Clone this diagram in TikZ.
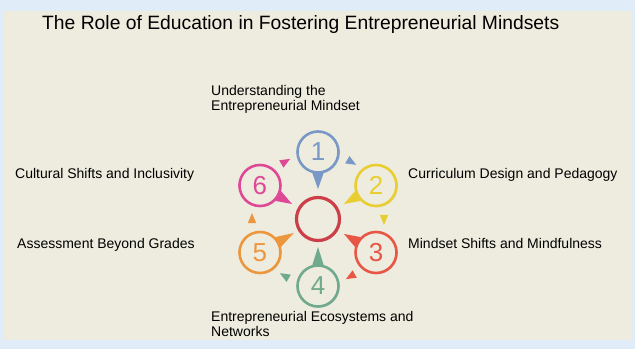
\documentclass[tikz,border=0pt]{standalone}
\usepackage{fontspec}
\setmainfont{Liberation Sans}
\usetikzlibrary{calc,shadows}
\tikzset{
  ring/.style={
    circle,
    line width=2.6pt,
    draw=#1,
    fill=panelbeige,
    text=#1,
    minimum size=41pt,
    inner sep=0pt,
    font=\fontsize{26}{26}\selectfont,
    drop shadow={shadow xshift=1.2pt, shadow yshift=-1.2pt, opacity=0.18, fill=black!60}
  },
  ring-hub/.style={ring=hubred, line width=3.2pt, minimum size=43pt},
  label-text/.style={anchor=base west, inner sep=0pt, align=left, font=\fontsize{14}{13}\selectfont},
  title-text/.style={anchor=base west, inner sep=0pt, font=\fontsize{19.3}{19.3}\selectfont}
}
\definecolor{skyblue}{RGB}{224,237,249}
\definecolor{panelbeige}{RGB}{238,236,222}
\definecolor{ringblue}{RGB}{122,152,198}
\definecolor{ringyellow}{RGB}{232,206,48}
\definecolor{ringred}{RGB}{232,86,70}
\definecolor{ringgreen}{RGB}{112,170,142}
\definecolor{ringorange}{RGB}{236,150,62}
\definecolor{ringpink}{RGB}{222,72,150}
\definecolor{hubred}{RGB}{204,62,72}
% small clockwise flow mark: colour, position, heading
\newcommand{\flowmark}[3]{
  \fill[#1] ($(#2)+(#3:6)$) -- ($(#2)+(#3+135:6)$) -- ($(#2)+(#3-135:6)$) -- cycle;
}
\begin{document}
\begin{tikzpicture}[x=1pt, y=1pt]
  \useasboundingbox (0,0) rectangle (635,349);
  \fill[skyblue] (0,0) rectangle (635,349);
  \fill[panelbeige] (4,9) rectangle (632,338);

  \node[title-text] (title) at (42,319) {The Role of Education in Fostering Entrepreneurial Mindsets};

  % Hub and the six bubbles round it
  \coordinate (hub) at (318,130);
  \node[ring-hub] (b0) at (hub) {};
  \node[ring=ringblue]   (b1) at ($(hub)+(90:67)$) {1};
  \node[ring=ringyellow] (b2) at ($(hub)+(30:67)$) {2};
  \node[ring=ringred]    (b3) at ($(hub)+(-30:67)$) {3};
  \node[ring=ringgreen]  (b4) at ($(hub)+(-90:67)$) {4};
  \node[ring=ringorange] (b5) at ($(hub)+(-150:67)$) {5};
  \node[ring=ringpink]   (b6) at ($(hub)+(150:67)$) {6};

  % Bubble tails pointing in to the hub
  \coordinate (t1) at ($(b1)+(270:37)$);
  \coordinate (t2) at ($(b2)+(210:37)$);
  \coordinate (t3) at ($(b3)+(150:37)$);
  \coordinate (t4) at ($(b4)+(90:39)$);
  \coordinate (t5) at ($(b5)+(30:39)$);
  \coordinate (t6) at ($(b6)+(-30:37)$);
  \fill[ringblue]   (b1.255) -- (t1) -- (b1.285) -- cycle;
  \fill[ringyellow] (b2.195) -- (t2) -- (b2.225) -- cycle;
  \fill[ringred]    (b3.135) -- (t3) -- (b3.165) -- cycle;
  \fill[ringgreen]  (b4.75)  -- (t4) -- (b4.105) -- cycle;
  \fill[ringorange] (b5.15)  -- (t5) -- (b5.45)  -- cycle;
  \fill[ringpink]   (b6.315) -- (t6) -- (b6.345) -- cycle;

  % Flow marks between neighbours
  \coordinate (m1) at ($(hub)+(60:66)$);
  \coordinate (m2) at ($(hub)+(0:66)$);
  \coordinate (m3) at ($(hub)+(-60:66)$);
  \coordinate (m4) at ($(hub)+(-120:66)$);
  \coordinate (m5) at ($(hub)+(180:66)$);
  \coordinate (m6) at ($(hub)+(120:66)$);
  \flowmark{ringblue}{m1}{-30}
  \flowmark{ringyellow}{m2}{-90}
  \flowmark{ringred}{m3}{-150}
  \flowmark{ringgreen}{m4}{150}
  \flowmark{ringorange}{m5}{90}
  \flowmark{ringpink}{m6}{30}

  % Labels (base is the last line)
  \node[label-text] (l1) at (211,239) {Understanding the\\Entrepreneurial Mindset};
  \node[label-text] (l2) at (408,171) {Curriculum Design and Pedagogy};
  \node[label-text] (l3) at (408,101) {Mindset Shifts and Mindfulness};
  \node[label-text] (l4) at (211,13) {Entrepreneurial Ecosystems and\\Networks};
  \node[label-text] (l5) at (17,101) {Assessment Beyond Grades};
  \node[label-text] (l6) at (15,171) {Cultural Shifts and Inclusivity};

\end{tikzpicture}
\end{document}
